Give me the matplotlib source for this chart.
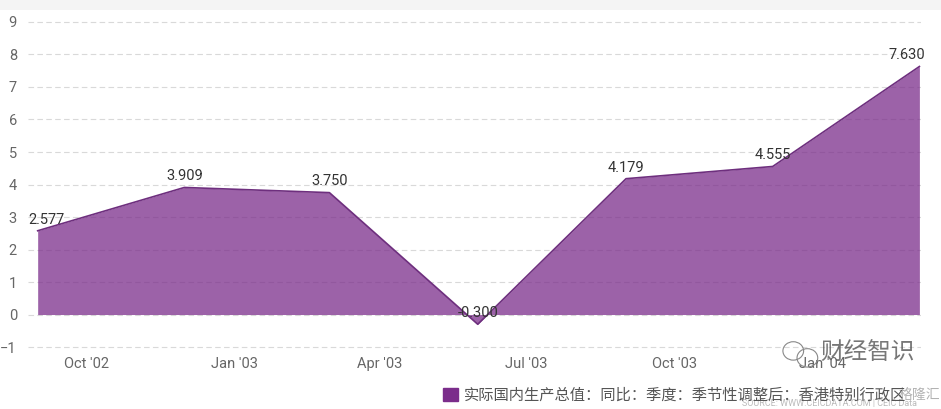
import matplotlib
matplotlib.use("Agg")
import matplotlib.pyplot as plt
import matplotlib.dates as mdates
import matplotlib.patches as mpatches
import numpy as np
import pandas as pd

# ---- data ----
quarters = ["2002-09-01", "2002-12-01", "2003-03-01", "2003-06-01",
            "2003-09-01", "2003-12-01", "2004-03-01"]
gdp_yoy = [2.577, 3.909, 3.750, -0.300, 4.179, 4.555, 7.630]
series_name = "实际国内生产总值：同比：季度：季节性调整后：香港特别行政区"

dates = pd.to_datetime(quarters)

fonts = ["Roboto", "Noto Sans CJK SC", "DejaVu Sans"]
plt.rcParams["font.family"] = fonts

line_col = "#6E2F7E"
fill_col = "#7B2D8B"
tick_col = "#666666"

fig = plt.figure(figsize=(9.41, 4.09), dpi=100)
fig.patch.set_facecolor("white")

# light grey band at the very top
fig.patches.append(mpatches.Rectangle((0, 0.975), 1, 0.025, transform=fig.transFigure,
                                      facecolor="#f4f4f4", edgecolor="none", zorder=0))

ax = fig.add_axes([28 / 941, 0.1396, 893 / 941, 0.8146])

ax.fill_between(dates, gdp_yoy, 0, color=fill_col, alpha=0.75, linewidth=0, zorder=2)
ax.plot(dates, gdp_yoy, color=line_col, lw=1.2, zorder=3)

# value labels
for i, (d, v) in enumerate(zip(dates, gdp_yoy)):
    ha, dx = "center", 0
    if i == 0:
        ha, dx = "left", -7
    elif i == len(gdp_yoy) - 1:
        ha, dx = "right", 4
    ax.annotate(f"{v:.3f}", (d, v), xytext=(dx, 3), textcoords="offset points",
                ha=ha, va="bottom", fontsize=10.5, color="#333333", zorder=5)

ax.set_xlim(dates[0] - pd.Timedelta(days=6), dates[-1] + pd.Timedelta(days=1))
ax.set_ylim(-1.15, 9.1)
ax.set_yticks(np.arange(-1, 10, 1))

ax.xaxis.set_major_locator(mdates.MonthLocator(bymonth=[1, 4, 7, 10]))
ax.xaxis.set_major_formatter(mdates.DateFormatter("%b '%y"))

for s in ax.spines.values():
    s.set_visible(False)
ax.tick_params(axis="both", length=0, colors=tick_col, labelsize=10.5)
ax.tick_params(axis="y", pad=8)
ax.tick_params(axis="x", pad=4)
ax.grid(axis="y", color="#d9d9d9", linestyle=(0, (5, 3)), linewidth=0.8, zorder=1)
ax.set_axisbelow(True)

# legend
handle = mpatches.Patch(color=fill_col, label=series_name)
fig.legend(handles=[handle], loc="center right", bbox_to_anchor=(0.963, 0.034),
           frameon=False, fontsize=11, handlelength=1.0, handleheight=1.0,
           handletextpad=0.4, labelcolor="#555555", borderpad=0, borderaxespad=0)

# watermarks
icon_kw = dict(transform=fig.transFigure, facecolor="none", edgecolor="#888888", lw=0.8)
fig.patches.append(mpatches.Ellipse((0.843, 0.142), 0.022, 0.045, **icon_kw))
fig.patches.append(mpatches.Ellipse((0.858, 0.125), 0.022, 0.045, **icon_kw))
fig.text(0.972, 0.137, "财经智识", ha="right", va="center", fontsize=17,
         color="#555555", alpha=0.8)
fig.text(0.999, 0.034, "格隆汇", ha="right", va="center", fontsize=10,
         color="#aaaaaa", alpha=0.9)
fig.text(0.975, 0.002, "SOURCE: WWW.CEICDATA.COM | CEIC Data", ha="right", va="bottom",
         fontsize=6.5, color="#bbbbbb")

fig.savefig("out.png", dpi=100)
